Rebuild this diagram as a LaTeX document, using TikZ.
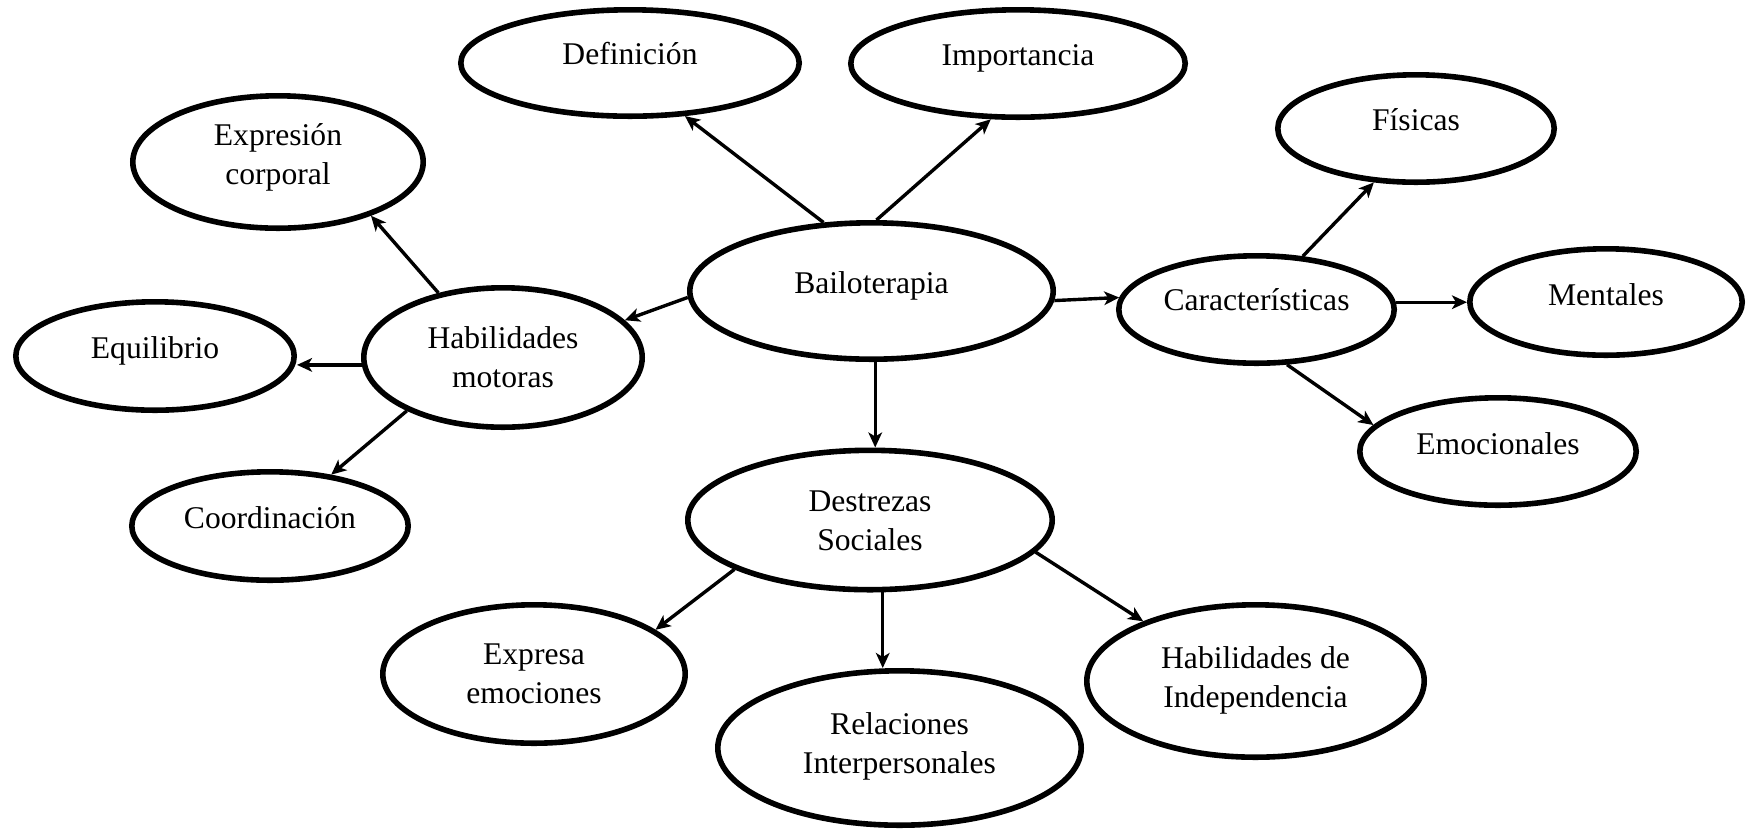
\documentclass[tikz,border=0pt]{standalone}
\usepackage{fontspec}
\setmainfont{Liberation Serif}
\usetikzlibrary{shapes.geometric,arrows.meta}

\tikzset{
  bubble/.style={ellipse, draw, line width=2.8pt, inner sep=0pt},
  txt/.style={font=\fontsize{15.8}{19.25}\selectfont, align=center, anchor=base, inner sep=0pt},
  arr/.style={line width=1.7pt, -{Stealth[length=7.5pt,width=6.8pt,inset=2pt]}}
}

\begin{document}
\begin{tikzpicture}[x=0.5pt,y=-0.5pt]
\useasboundingbox (0,0) rectangle (1746,832);

% ellipses
\node[bubble, minimum width=169.2pt, minimum height=53.2pt] (def)  at (630,63)     {};
\node[bubble, minimum width=167.2pt, minimum height=53.7pt] (imp)  at (1018,63.5)  {};
\node[bubble, minimum width=145.2pt, minimum height=66.2pt] (exp)  at (278,162)    {};
\node[bubble, minimum width=138.2pt, minimum height=53.7pt] (fis)  at (1416,128.5) {};
\node[bubble, minimum width=181.7pt, minimum height=68.2pt] (bail) at (871.5,291)  {};
\node[bubble, minimum width=137.7pt, minimum height=53.7pt] (car)  at (1256.5,309.5) {};
\node[bubble, minimum width=136.2pt, minimum height=53.2pt] (men)  at (1606,302)   {};
\node[bubble, minimum width=139.2pt, minimum height=69.7pt] (hm)   at (503,357.5)  {};
\node[bubble, minimum width=139.2pt, minimum height=54.2pt] (equ)  at (155,356)    {};
\node[bubble, minimum width=138.2pt, minimum height=53.7pt] (emo)  at (1498,451.5) {};
\node[bubble, minimum width=138.2pt, minimum height=54.2pt] (coo)  at (270,526)    {};
\node[bubble, minimum width=182.2pt, minimum height=69.7pt] (des)  at (870,520)    {};
\node[bubble, minimum width=151.2pt, minimum height=69.2pt] (expe) at (534,674)    {};
\node[bubble, minimum width=181.7pt, minimum height=77.2pt] (rel)  at (899.5,748)  {};
\node[bubble, minimum width=168.7pt, minimum height=76.2pt] (ind)  at (1255.5,681) {};

% labels, each placed on the baseline of its last line
\node[txt] (def-t)  at (630,64)    {Definición};
\node[txt] (imp-t)  at (1018,65)   {Importancia};
\node[txt] (exp-t)  at (278,184)   {Expresión\\corporal};
\node[txt] (fis-t)  at (1416,130)  {Físicas};
\node[txt] (bail-t) at (871.5,293) {Bailoterapia};
\node[txt] (car-t)  at (1256.5,310) {Características};
\node[txt] (men-t)  at (1606,305)  {Mentales};
\node[txt] (hm-t)   at (503,387)   {Habilidades\\motoras};
\node[txt] (equ-t)  at (155,358)   {Equilibrio};
\node[txt] (emo-t)  at (1498,454)  {Emocionales};
\node[txt] (coo-t)  at (270,528)   {Coordinación};
\node[txt] (des-t)  at (870,550)   {Destrezas\\Sociales};
\node[txt] (expe-t) at (534,703)   {Expresa\\emociones};
\node[txt] (rel-t)  at (899.5,773) {Relaciones\\Interpersonales};
\node[txt] (ind-t)  at (1255.5,707) {Habilidades de\\Independencia};

% connectors
\draw[arr] (bail.125) -- (def.-44.5);
\draw[arr] (bail.86) -- (imp.-116);
\draw[arr] (bail.182) -- (hm.17);
\draw[arr] (bail.-3.4) -- (car.175.3);
\draw[arr] (bail.-87) -- (bail.-87 |- des.north);
\draw[arr] (car.49.3) -- (fis.-128.8);
\draw[arr] (car.3) -- (car.3 -| men.west);
\draw[arr] (car.-61.2) -- (emo.168);
\draw[arr] (hm.135) -- (exp.-30.7);
\draw[arr] (hm.183) -- (hm.183 -| equ.east);
\draw[arr] (hm.209.6) -- (coo.40.1);
\draw[arr] (des.200) -- (expe.20);
\draw[arr] (des.-80) -- (des.-80 |- rel.north);
\draw[arr] (des.-11.6) -- (ind.152.6);
\end{tikzpicture}
\end{document}
